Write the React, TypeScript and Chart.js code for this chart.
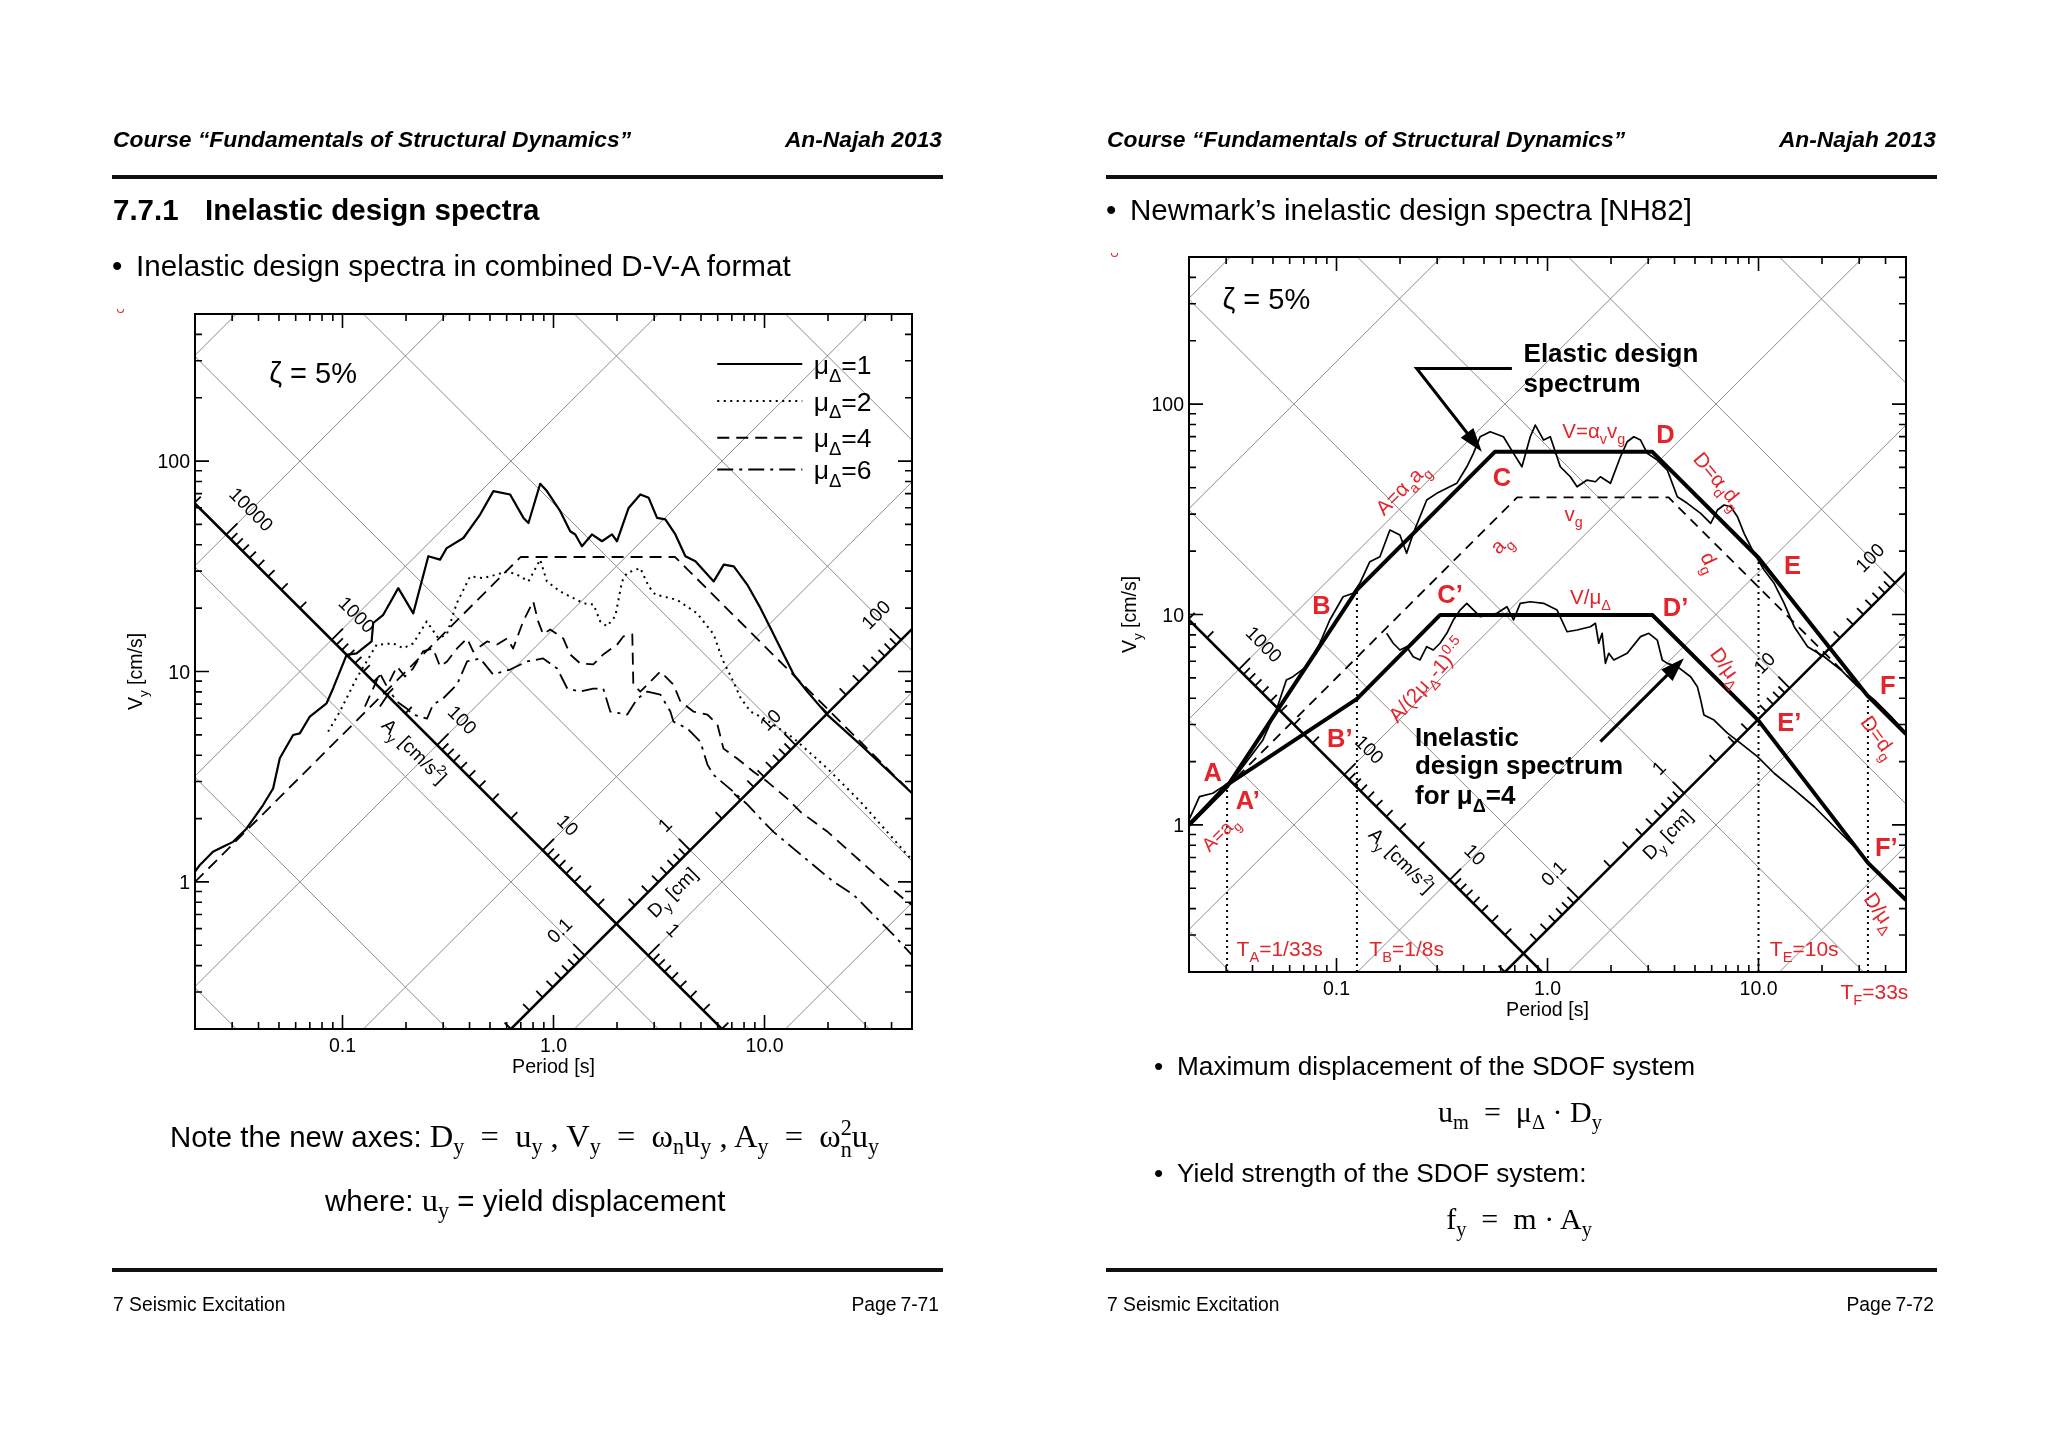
import React, { useEffect, useRef } from 'react';
import { Chart, registerables } from 'chart.js';

Chart.register(...registerables);

const SANS = '"Liberation Sans", Arial, Helvetica, sans-serif';
const SERIF = '"Liberation Serif", "Times New Roman", Times, serif';
const RED = '#e3242b';
const GRID_GRAY = '#8c8c8c';
const TWO_PI = 2 * Math.PI;

// ---------------- axis ranges / tick labels ----------------
const PERIOD_MIN = 0.02;
const PERIOD_MAX = 50;
const VEL_MIN = 0.2;
const VEL_MAX = 500;
const X_TICK_VALUES = [0.1, 1, 10];
const X_TICK_LABELS = ['0.1', '1.0', '10.0'];
const Y_TICK_VALUES = [1, 10, 100];
const Y_TICK_LABELS = ['1', '10', '100'];
const GRID_ACC = [0.1, 1, 10, 100, 1000, 10000, 100000, 1000000];
const GRID_DISP = [0.0001, 0.001, 0.01, 0.1, 1, 10, 100, 1000];

// ---------------- left chart (El Centro, inelastic spectra) ----------------
const leftMu1T = [0.02, 0.02104, 0.02433, 0.02715, 0.03029, 0.03506, 0.04203, 0.0469, 0.05045, 0.05834, 0.06277, 0.07004, 0.08404, 0.09034, 0.1046, 0.1166, 0.1374, 0.1398, 0.156, 0.1838, 0.2165, 0.2551, 0.29, 0.3119, 0.374, 0.4489, 0.519, 0.6228, 0.7205, 0.7609, 0.8648, 0.9305, 1.076, 1.2, 1.268, 1.364, 1.521, 1.697, 1.893, 2.0, 2.27, 2.579, 2.825, 3.096, 3.389, 3.781, 4.217, 4.705, 5.745, 6.411, 7.152, 8.278, 9.572, 10.48, 11.91, 13.77, 15.95, 19.85, 28.56, 50];
const leftMu1V = [1.12, 1.2, 1.39, 1.47, 1.55, 1.79, 2.32, 2.78, 3.87, 4.99, 5.08, 6.11, 7.06, 8.33, 12.0, 12.2, 13.9, 17.0, 18.6, 24.9, 18.9, 35.3, 34.0, 38.6, 43.1, 55.7, 72.0, 69.4, 53.7, 50.8, 78.0, 72.0, 57.8, 46.4, 44.8, 39.4, 44.8, 41.6, 44.8, 41.6, 59.9, 69.4, 66.9, 53.7, 52.8, 44.8, 35.3, 33.4, 26.8, 32.2, 31.6, 25.9, 20.0, 16.7, 12.9, 9.65, 8.03, 6.22, 4.48, 2.64];

const leftMu2T = [0.0855, 0.0972, 0.1166, 0.1451, 0.174, 0.1941, 0.2165, 0.2506, 0.2845, 0.3119, 0.3478, 0.4025, 0.4654, 0.5387, 0.601, 0.6704, 0.7609, 0.8648, 0.9305, 1.076, 1.244, 1.388, 1.548, 1.665, 1.792, 1.963, 2.112, 2.231, 2.579, 2.825, 3.039, 3.852, 4.793, 5.745, 6.32, 6.97, 7.69, 8.58, 9.92, 13.77, 19.85, 28.56, 50];
const leftMu2V = [5.18, 6.45, 9.29, 13.4, 13.6, 12.9, 13.6, 17.3, 14.4, 15.0, 21.1, 28.3, 27.8, 28.9, 29.9, 28.9, 26.8, 34.0, 26.8, 24.0, 22.3, 21.1, 20.8, 17.3, 16.4, 18.3, 26.8, 29.4, 31.0, 25.4, 23.2, 21.9, 18.9, 15.0, 11.4, 9.36, 7.52, 6.45, 6.0, 4.81, 3.46, 2.4, 1.27];

const leftMu4T = [0.1277, 0.1505, 0.1624, 0.1812, 0.1978, 0.2158, 0.2407, 0.2685, 0.29, 0.313, 0.349, 0.3895, 0.4159, 0.4845, 0.5404, 0.603, 0.6438, 0.718, 0.8012, 0.8461, 0.8935, 0.9645, 1.112, 1.2, 1.339, 1.543, 1.721, 2.006, 2.142, 2.363, 2.389, 2.579, 2.973, 3.21, 3.7, 3.994, 4.603, 5.364, 5.983, 6.389, 7.444, 8.868, 10.33, 12.86, 14.83, 19.91, 26.46, 35.52, 45.67, 50];
const leftMu4V = [6.81, 9.78, 8.48, 10.56, 9.47, 10.33, 12.45, 12.87, 10.56, 11.16, 12.87, 14.36, 12.45, 13.9, 13.45, 14.36, 12.87, 17.3, 21.54, 17.3, 15.01, 15.85, 14.36, 12.05, 10.92, 10.8, 12.05, 13.45, 14.68, 15.01, 8.67, 8.03, 9.26, 10.0, 8.67, 7.2, 6.45, 6.24, 5.59, 4.3, 3.85, 3.34, 2.99, 2.48, 2.15, 1.73, 1.34, 1.03, 0.83, 0.777];

const leftMu6T = [0.1505, 0.1679, 0.1812, 0.2021, 0.2158, 0.2516, 0.2685, 0.2996, 0.349, 0.3895, 0.4489, 0.5173, 0.6228, 0.75, 0.8935, 1.041, 1.162, 1.339, 1.543, 1.721, 1.858, 2.237, 2.496, 2.785, 3.21, 3.58, 3.7, 4.311, 4.969, 5.364, 5.728, 7.127, 8.305, 9.572, 11.03, 13.73, 17.08, 21.27, 26.46, 32.91, 40.96, 50];
const leftMu6V = [6.81, 8.03, 7.2, 6.66, 6.24, 5.97, 6.96, 7.44, 8.67, 11.16, 11.53, 9.68, 10.22, 11.16, 11.53, 10.33, 8.3, 8.03, 8.3, 8.3, 6.45, 6.24, 7.44, 8.03, 7.77, 6.45, 5.78, 5.35, 4.64, 3.61, 3.23, 2.68, 2.33, 2.0, 1.73, 1.44, 1.2, 1.0, 0.867, 0.696, 0.559, 0.449];

// peak ground motion bounds (a_g, v_g, d_g) drawn as the straight dashed line
const leftGroundT = [0.02, 0.698, 3.77, 50];
const leftGroundV = [1.0, 35, 35, 2.64];

// ---------------- right chart (Newmark-Hall design spectra) ----------------
const rightElasticT = [0.02, 0.02242, 0.02593, 0.02892, 0.03228, 0.0448, 0.05188, 0.05787, 0.06219, 0.07202, 0.0833, 0.09295, 0.1075, 0.1199, 0.129, 0.1439, 0.1606, 0.1791, 0.1998, 0.215, 0.2311, 0.2677, 0.2986, 0.3332, 0.3716, 0.4146, 0.4455, 0.4794, 0.5349, 0.6184, 0.6902, 0.7566, 0.8285, 0.875, 0.9583, 1.031, 1.15, 1.283, 1.381, 1.54, 1.687, 1.781, 1.987, 2.217, 2.386, 2.565, 2.76, 2.97, 3.313, 3.696, 4.123, 4.6, 5.319, 5.934, 6.386, 6.865, 7.386, 7.95, 8.543, 9.531, 10.63, 11.86, 13.23, 14.76, 17.09, 20.49, 24.6, 29.53, 35.42, 42.51, 50];
const rightElasticV = [1.056, 1.363, 1.414, 1.52, 1.636, 2.534, 3.518, 4.884, 5.064, 5.649, 7.297, 9.417, 12.15, 12.61, 14.07, 17.82, 18.82, 25.2, 23.86, 19.53, 24.3, 34.99, 37.65, 39.77, 42.01, 50.36, 58.33, 69.94, 73.86, 69.94, 58.33, 50.36, 69.94, 79.47, 67.45, 69.94, 50.36, 45.14, 40.46, 43.55, 42.75, 45.14, 42.01, 56.19, 66.22, 69.94, 67.45, 58.33, 54.2, 48.59, 36.28, 33.76, 30.26, 27.13, 31.36, 33.13, 32.52, 29.15, 24.3, 19.53, 16.27, 14.07, 11.3, 8.75, 7.03, 6.3, 5.45, 4.54, 3.93, 3.27, 2.73];

const rightInelasticT = [0.1728, 0.1857, 0.1998, 0.215, 0.2311, 0.2487, 0.2677, 0.2876, 0.3095, 0.3332, 0.358, 0.3852, 0.4146, 0.4794, 0.5756, 0.6423, 0.6902, 0.7427, 0.8285, 0.9583, 1.11, 1.238, 1.381, 1.597, 1.687, 1.749, 1.815, 1.882, 1.951, 2.061, 2.386, 2.76, 3.022, 3.313, 3.499, 3.696, 4.123, 4.769, 5.131, 5.319, 5.514, 6.153, 7.124, 8.238, 9.89, 11.86, 14.76, 18.37, 22.86, 28.46, 33.54, 50];
const rightInelasticV = [8.14, 7.3, 6.78, 7.03, 6.3, 6.08, 7.03, 6.78, 7.3, 8.14, 9.42, 10.5, 11.3, 9.76, 10.13, 10.89, 9.42, 11.3, 11.5, 11.3, 10.5, 8.28, 8.44, 8.75, 9.08, 7.3, 8.14, 5.86, 6.54, 6.08, 6.54, 7.85, 8.14, 7.56, 6.08, 5.86, 5.65, 5.06, 4.54, 3.93, 3.33, 3.15, 2.73, 2.44, 2.11, 1.76, 1.47, 1.22, 0.98, 0.789, 0.658, 0.44];

const designElasticT = [0.02, 0.0303, 0.125, 0.563, 3.14, 10, 33, 50];
const designElasticV = [1.0, 1.52, 13.1, 59.3, 59.3, 18.6, 4.09, 2.7];
const designInelasticT = [0.02, 0.0303, 0.125, 0.31, 3.14, 10, 33, 50];
const designInelasticV = [1.0, 1.55, 3.97, 9.95, 9.95, 3.13, 0.66, 0.44];
const rightGroundT = [0.02, 0.718, 3.75, 50];
const rightGroundV = [1.0, 36, 36, 2.7];
const cornerPeriods = [1 / 33, 1 / 8, 10, 33];
const cornerTopV = [1.55, 13.1, 18.6, 4.09];

// ---------------- helpers ----------------
type Part = [string, string?];

function rich(ctx: any, parts: Part[], x: number, y: number, size: number, o: any = {}) {
  const fam = o.family || SANS;
  const weight = o.bold ? 'bold ' : '';
  ctx.save();
  ctx.translate(x, y);
  if (o.rot) ctx.rotate((o.rot * Math.PI) / 180);
  ctx.fillStyle = o.color || '#000';
  ctx.textBaseline = 'alphabetic';
  ctx.textAlign = 'left';
  const fonts = parts.map((p) => `${weight}${p[1] ? size * 0.7 : size}px ${fam}`);
  const widths = parts.map((p, i) => {
    ctx.font = fonts[i];
    return ctx.measureText(p[0]).width;
  });
  const total = widths.reduce((s: number, w: number) => s + w, 0);
  let cx = o.align === 'left' ? 0 : o.align === 'right' ? -total : -total / 2;
  const base = size * 0.36;
  parts.forEach((p, i) => {
    ctx.font = fonts[i];
    const dy = p[1] === 'sub' ? size * 0.3 : p[1] === 'sup' ? -size * 0.42 : 0;
    ctx.fillText(p[0], cx, base + dy);
    cx += widths[i];
  });
  ctx.restore();
}

function arrow(ctx: any, pts: number[][], lw: number, head: number, hw: number) {
  const n = pts.length;
  const [x1, y1] = pts[n - 2];
  const [x2, y2] = pts[n - 1];
  const ang = Math.atan2(y2 - y1, x2 - x1);
  const bx = x2 - head * Math.cos(ang);
  const by = y2 - head * Math.sin(ang);
  ctx.save();
  ctx.strokeStyle = '#000';
  ctx.fillStyle = '#000';
  ctx.lineWidth = lw;
  ctx.setLineDash([]);
  ctx.beginPath();
  ctx.moveTo(pts[0][0], pts[0][1]);
  for (let i = 1; i < n - 1; i++) ctx.lineTo(pts[i][0], pts[i][1]);
  ctx.lineTo(bx + 2 * Math.cos(ang), by + 2 * Math.sin(ang));
  ctx.stroke();
  ctx.beginPath();
  ctx.moveTo(x2, y2);
  ctx.lineTo(bx + hw * Math.sin(ang), by - hw * Math.cos(ang));
  ctx.lineTo(bx - hw * Math.sin(ang), by + hw * Math.cos(ang));
  ctx.closePath();
  ctx.fill();
  ctx.restore();
}

function series(T: number[], V: number[], width: number, dash: number[] = [], color = '#000') {
  return {
    data: T.map((t, i) => ({ x: t, y: V[i] })),
    borderColor: color,
    backgroundColor: color,
    borderWidth: width,
    borderDash: dash,
    borderCapStyle: 'butt',
    borderJoinStyle: 'round',
    pointRadius: 0,
    tension: 0,
    fill: false,
  };
}

function verticalSeries(T: number[], top: number[], width: number, dash: number[]) {
  const data: any[] = [];
  T.forEach((t, i) => {
    data.push({ x: t, y: VEL_MIN });
    data.push({ x: t, y: top[i] });
    data.push({ x: t, y: null });
  });
  return {
    data,
    borderColor: '#000',
    borderWidth: width,
    borderDash: dash,
    pointRadius: 0,
    tension: 0,
    fill: false,
    spanGaps: false,
  };
}

const STEPS = [1, 2, 3, 4, 5, 6, 7, 8, 9];

function tripartite(deco: any) {
  return {
    id: 'tripartite',
    beforeDatasetsDraw(chart: any) {
      const { ctx, chartArea: a } = chart;
      const px = (t: number) => chart.scales.x.getPixelForValue(t);
      const py = (v: number) => chart.scales.y.getPixelForValue(v);
      const tLo = 1e-4;
      const tHi = 1e4;
      ctx.save();
      ctx.beginPath();
      ctx.rect(a.left, a.top, a.right - a.left, a.bottom - a.top);
      ctx.clip();
      ctx.strokeStyle = GRID_GRAY;
      ctx.lineWidth = 1;
      GRID_ACC.forEach((A) => {
        ctx.beginPath();
        ctx.moveTo(px(tLo), py((A * tLo) / TWO_PI));
        ctx.lineTo(px(tHi), py((A * tHi) / TWO_PI));
        ctx.stroke();
      });
      GRID_DISP.forEach((D) => {
        ctx.beginPath();
        ctx.moveTo(px(tLo), py((TWO_PI * D) / tLo));
        ctx.lineTo(px(tHi), py((TWO_PI * D) / tHi));
        ctx.stroke();
      });
      const D0 = deco.aAxisD;
      const A0 = deco.dAxisA;
      ctx.strokeStyle = '#000';
      ctx.lineWidth = 2.6;
      ctx.beginPath();
      ctx.moveTo(px(tLo), py((TWO_PI * D0) / tLo));
      ctx.lineTo(px(tHi), py((TWO_PI * D0) / tHi));
      ctx.stroke();
      ctx.beginPath();
      ctx.moveTo(px(tLo), py((A0 * tLo) / TWO_PI));
      ctx.lineTo(px(tHi), py((A0 * tHi) / TWO_PI));
      ctx.stroke();
      const s = Math.SQRT1_2;
      ctx.lineWidth = 1.8;
      for (let k = -2; k <= 6; k++) {
        STEPS.forEach((m) => {
          const A = m * Math.pow(10, k);
          const V = Math.sqrt(A * D0);
          const T = (TWO_PI * V) / A;
          const x = px(T);
          const y = py(V);
          const L = m === 1 ? 16 : 9;
          ctx.beginPath();
          ctx.moveTo(x, y);
          ctx.lineTo(x + L * s, y - L * s);
          ctx.stroke();
        });
        STEPS.forEach((m) => {
          const D = m * Math.pow(10, k - 3);
          const V = Math.sqrt(A0 * D);
          const T = (TWO_PI * D) / V;
          const x = px(T);
          const y = py(V);
          const L = m === 1 ? 16 : 9;
          ctx.beginPath();
          ctx.moveTo(x, y);
          ctx.lineTo(x - L * s, y - L * s);
          ctx.stroke();
        });
      }
      ctx.restore();
      const inside = (T: number, V: number) => T > PERIOD_MIN * 1.02 && T < PERIOD_MAX / 1.02 && V > VEL_MIN * 1.02 && V < VEL_MAX / 1.02;
      ctx.save();
      deco.aLabels.forEach((A: number) => {
        const V = Math.sqrt(A * D0);
        const T = (TWO_PI * V) / A;
        if (!inside(T, V)) return;
        rich(ctx, [[String(A)]], px(T) + 36 * s, py(V) - 36 * s, 19, { rot: 45 });
      });
      deco.dLabels.forEach((D: number) => {
        const V = Math.sqrt(A0 * D);
        const T = (TWO_PI * D) / V;
        if (!inside(T, V)) return;
        rich(ctx, [[String(D)]], px(T) - 36 * s, py(V) - 36 * s, 19, { rot: -45 });
      });
      {
        const A = deco.aTitleA;
        const V = Math.sqrt(A * D0);
        const T = (TWO_PI * V) / A;
        rich(ctx, [['A'], ['y', 'sub'], [' [cm/s'], ['2', 'sup'], [']']], px(T) - 20 * s, py(V) + 20 * s, 19, { rot: 45 });
      }
      {
        const D = deco.dTitleD;
        const V = Math.sqrt(A0 * D);
        const T = (TWO_PI * D) / V;
        rich(ctx, [['D'], ['y', 'sub'], [' [cm]']], px(T) + 17 * s, py(V) + 17 * s, 19, { rot: -45 });
      }
      ctx.restore();
    },
    afterDatasetsDraw(chart: any) {
      const { ctx, chartArea: a } = chart;
      const px = (t: number) => chart.scales.x.getPixelForValue(t);
      const py = (v: number) => chart.scales.y.getPixelForValue(v);
      ctx.save();
      ctx.strokeStyle = '#000';
      ctx.setLineDash([]);
      ctx.lineWidth = 2;
      ctx.strokeRect(a.left, a.top, a.right - a.left, a.bottom - a.top);
      ctx.lineWidth = 1.6;
      for (let k = -2; k <= 2; k++) {
        STEPS.forEach((m) => {
          const v = m * Math.pow(10, k);
          const L = m === 1 ? 14 : 7;
          if (v > PERIOD_MIN * 1.001 && v < PERIOD_MAX * 0.999) {
            const x = px(v);
            ctx.beginPath();
            ctx.moveTo(x, a.bottom);
            ctx.lineTo(x, a.bottom - L);
            ctx.moveTo(x, a.top);
            ctx.lineTo(x, a.top + L);
            ctx.stroke();
          }
          if (v > VEL_MIN * 1.001 && v < VEL_MAX * 0.999) {
            const y = py(v);
            ctx.beginPath();
            ctx.moveTo(a.left, y);
            ctx.lineTo(a.left + L, y);
            ctx.moveTo(a.right, y);
            ctx.lineTo(a.right - L, y);
            ctx.stroke();
          }
        });
      }
      X_TICK_VALUES.forEach((v, i) => rich(ctx, [[X_TICK_LABELS[i]]], px(v), a.bottom + 16, 19.5));
      Y_TICK_VALUES.forEach((v, i) => rich(ctx, [[Y_TICK_LABELS[i]]], a.left - 5, py(v), 19.5, { align: 'right' }));
      rich(ctx, [['Period [s]']], (a.left + a.right) / 2, a.bottom + 37, 19.6);
      rich(ctx, [['V'], ['y', 'sub'], [' [cm/s]']], a.left - 60, (a.top + a.bottom) / 2, 19.5, { rot: -90 });
      if (deco.overlay) deco.overlay(ctx, px, py, a);
      ctx.restore();
    },
  };
}

function baseOptions(padding: any) {
  return {
    responsive: false,
    animation: false,
    events: [],
    layout: { padding },
    plugins: { legend: { display: false }, tooltip: { enabled: false } },
    scales: {
      x: { type: 'logarithmic', min: PERIOD_MIN, max: PERIOD_MAX, display: false, bounds: 'data' },
      y: { type: 'logarithmic', min: VEL_MIN, max: VEL_MAX, display: false, bounds: 'data' },
    },
  };
}

const DOT = [2, 4.5];
const DASH = [12, 7];
const DASHDOT = [16, 6, 3, 6];

function leftOverlay(ctx: any, px: any, py: any) {
  rich(ctx, [['\u03b6 = 5%']], px(0.0726), py(263), 29);
  const rows: [number, number[], string][] = [
    [289, [], '1'],
    [193, DOT, '2'],
    [129, DASH, '4'],
    [91.3, DASHDOT, '6'],
  ];
  rows.forEach(([v, dash, lab]) => {
    ctx.save();
    ctx.strokeStyle = '#000';
    ctx.lineWidth = 2;
    ctx.setLineDash(dash);
    ctx.beginPath();
    ctx.moveTo(px(5.97), py(v));
    ctx.lineTo(px(15.1), py(v));
    ctx.stroke();
    ctx.restore();
    rich(ctx, [['\u03bc'], ['\u0394', 'sub'], ['=' + lab]], px(17.1), py(v), 26.5, { align: 'left' });
  });
}

function rightOverlay(ctx: any, px: any, py: any) {
  rich(ctx, [['\u03b6 = 5%']], px(0.0465), py(318), 29);
  const letters: [string, number, number][] = [
    ['A', 0.0259, 1.79], ['A\u2019', 0.038, 1.31], ['B', 0.0849, 11.1], ['B\u2019', 0.1037, 2.58],
    ['C', 0.6076, 45.1], ['C\u2019', 0.3453, 12.6], ['D', 3.627, 72.6], ['D\u2019', 4.046, 10.9],
    ['E', 14.51, 17.2], ['E\u2019', 13.98, 3.1], ['F', 41.0, 4.63], ['F\u2019', 40.3, 0.789],
  ];
  letters.forEach(([t, T, V]) => rich(ctx, [[t]], px(T), py(V), 25.5, { bold: true, color: RED }));
  const o = { color: RED };
  rich(ctx, [['A=a'], ['g', 'sub']], px(0.0279), py(0.913), 19, { ...o, rot: -45 });
  rich(ctx, [['A=\u03b1'], ['a', 'sub'], ['a'], ['g', 'sub']], px(0.2036), py(39.8), 20.5, { ...o, rot: -45 });
  rich(ctx, [['a'], ['g', 'sub']], px(0.5967), py(21.8), 20.5, { ...o, rot: -45 });
  rich(ctx, [['V=\u03b1'], ['v', 'sub'], ['v'], ['g', 'sub']], px(1.656), py(75.2), 20.5, o);
  rich(ctx, [['v'], ['g', 'sub']], px(1.33), py(30.3), 20.5, o);
  rich(ctx, [['D=\u03b1'], ['d', 'sub'], ['d'], ['g', 'sub']], px(6.5), py(43.6), 20.5, { ...o, rot: 50 });
  rich(ctx, [['d'], ['g', 'sub']], px(5.934), py(17.8), 20.5, { ...o, rot: 65 });
  rich(ctx, [['V/\u03bc'], ['\u0394', 'sub']], px(1.597), py(12.15), 20.5, o);
  rich(ctx, [['A/(2\u03bc'], ['\u0394', 'sub'], ['-1)'], ['0.5', 'sup']], px(0.2677), py(4.88), 20.5, { ...o, rot: -48 });
  rich(ctx, [['D/\u03bc'], ['\u0394', 'sub']], px(7.124), py(5.65), 20.5, { ...o, rot: 54 });
  rich(ctx, [['D=d'], ['g', 'sub']], px(37.4), py(2.63), 20.5, { ...o, rot: 54 });
  rich(ctx, [['D/\u03bc'], ['\u0394', 'sub']], px(38.1), py(0.387), 20.5, { ...o, rot: 55 });
  rich(ctx, [['T'], ['A', 'sub'], ['=1/33s']], px(0.0538), py(0.2597), 21, o);
  rich(ctx, [['T'], ['B', 'sub'], ['=1/8s']], px(0.215), py(0.2597), 21, o);
  rich(ctx, [['T'], ['E', 'sub'], ['=10s']], px(16.47), py(0.2597), 21, o);
  rich(ctx, [['T'], ['F', 'sub'], ['=33s']], px(35.4), py(0.1615), 21, o);
  rich(ctx, [['Elastic design']], px(0.77), py(174.7), 26, { bold: true, align: 'left' });
  rich(ctx, [['spectrum']], px(0.77), py(125.9), 26, { bold: true, align: 'left' });
  arrow(ctx, [[px(0.678), py(147.8)], [px(0.2399), py(147.8)], [px(0.4884), py(59.3)]], 3, 24, 8);
  rich(ctx, [['Inelastic']], px(0.2355), py(2.63), 26, { bold: true, align: 'left' });
  rich(ctx, [['design spectrum']], px(0.2355), py(1.928), 26, { bold: true, align: 'left' });
  rich(ctx, [['for \u03bc'], ['\u0394', 'sub'], ['=4']], px(0.2355), py(1.388), 26, { bold: true, align: 'left' });
  arrow(ctx, [[px(1.781), py(2.487)], [px(4.432), py(6.19)]], 3, 24, 8);
}

function leftConfig(): any {
  return {
    type: 'line',
    data: {
      datasets: [
        series(leftGroundT, leftGroundV, 1.8, DASH),
        series(leftMu6T, leftMu6V, 1.8, DASHDOT),
        series(leftMu4T, leftMu4V, 1.8, DASH),
        series(leftMu2T, leftMu2V, 2, DOT),
        series(leftMu1T, leftMu1V, 2.2),
      ],
    },
    options: baseOptions({ left: 195, right: 112, top: 314, bottom: 419 }),
    plugins: [
      tripartite({ aAxisD: 0.2, dAxisA: 2, aLabels: [10000, 1000, 100, 10, 1], dLabels: [0.1, 1, 10, 100], aTitleA: 120, dTitleD: 0.52, overlay: leftOverlay }),
    ],
  };
}

function rightConfig(): any {
  return {
    type: 'line',
    data: {
      datasets: [
        verticalSeries(cornerPeriods, cornerTopV, 2, [2, 4]),
        series(rightGroundT, rightGroundV, 1.8, [10, 7]),
        series(rightElasticT, rightElasticV, 1.7),
        series(rightInelasticT, rightInelasticV, 1.7),
        series(designElasticT, designElasticV, 4),
        series(designInelasticT, designInelasticV, 4),
      ],
    },
    options: baseOptions({ left: 165, right: 142, top: 257, bottom: 476 }),
    plugins: [
      tripartite({ aAxisD: 0.03, dAxisA: 2, aLabels: [10000, 1000, 100, 10, 1], dLabels: [0.1, 1, 10, 100], aTitleA: 21, dTitleD: 0.53, overlay: rightOverlay }),
    ],
  };
}

// ---------------- page text ----------------
const Sub = ({ children }: any) => (
  <span style={{ fontSize: '0.68em', position: 'relative', top: '0.32em' }}>{children}</span>
);
const SupSub = ({ sup, sub }: any) => (
  <span style={{ display: 'inline-block', verticalAlign: 'middle', lineHeight: 1, fontSize: '0.68em' }}>
    <span style={{ display: 'block' }}>{sup}</span>
    <span style={{ display: 'block' }}>{sub}</span>
  </span>
);

const Txt = ({ x, y, size, align = 'left', bold = false, italic = false, family = SANS, color = '#000', children }: any) => {
  const style: any = {
    position: 'absolute',
    top: y - size / 2,
    fontSize: size,
    lineHeight: `${size}px`,
    whiteSpace: 'nowrap',
    fontWeight: bold ? 700 : 400,
    fontStyle: italic ? 'italic' : 'normal',
    fontFamily: family,
    color,
  };
  if (align === 'left') style.left = x;
  else if (align === 'right') style.right = 2048 - x;
  else {
    style.left = x;
    style.transform = 'translateX(-50%)';
  }
  return <div style={style}>{children}</div>;
};

const Rule = ({ x, y, w }: any) => (
  <div style={{ position: 'absolute', left: x, top: y, width: w, height: 4, background: '#111' }} />
);

const RedMark = ({ x, y }: any) => (
  <div style={{ position: 'absolute', left: x - 3, top: y - 2, width: 5, height: 3, borderLeft: `1.5px solid ${RED}`, borderRight: `1.5px solid ${RED}`, borderBottom: `1.5px solid ${RED}`, borderRadius: '0 0 4px 4px' }} />
);

export default function App() {
  const leftRef = useRef<HTMLCanvasElement>(null);
  const rightRef = useRef<HTMLCanvasElement>(null);

  useEffect(() => {
    const c1 = new Chart(leftRef.current as any, leftConfig());
    const c2 = new Chart(rightRef.current as any, rightConfig());
    return () => {
      c1.destroy();
      c2.destroy();
    };
  }, []);

  return (
    <div style={{ position: 'absolute', left: 0, top: 0, width: 2048, height: 1448, background: '#fff', overflow: 'hidden', fontFamily: SANS }}>
      <canvas ref={leftRef} width={1024} height={1448} style={{ position: 'absolute', left: 0, top: 0 }} />
      <canvas ref={rightRef} width={1024} height={1448} style={{ position: 'absolute', left: 1024, top: 0 }} />

      {/* left page */}
      <Txt x={113} y={139} size={22.8} bold italic>Course {'\u201c'}Fundamentals of Structural Dynamics{'\u201d'}</Txt>
      <Txt x={942} y={139} size={22.8} bold italic align="right">An-Najah 2013</Txt>
      <Rule x={112} y={175} w={831} />
      <Txt x={113} y={210} size={29.5} bold>7.7.1</Txt>
      <Txt x={205} y={210} size={29.5} bold>Inelastic design spectra</Txt>
      <Txt x={112} y={266} size={29.6}>{'\u2022'}</Txt>
      <Txt x={136} y={266} size={29.6}>Inelastic design spectra in combined D-V-A format</Txt>
      <RedMark x={120} y={311} />
      <Txt x={170} y={1132} size={29.4}>
        Note the new axes:{' '}
        <span style={{ fontFamily: SERIF, fontSize: 32.5 }}>
          D<Sub>y</Sub>&nbsp; = &nbsp;u<Sub>y</Sub> , V<Sub>y</Sub>&nbsp; = &nbsp;{'\u03c9'}<Sub>n</Sub>u<Sub>y</Sub> , A<Sub>y</Sub>&nbsp; = &nbsp;{'\u03c9'}
          <SupSub sup="2" sub="n" />u<Sub>y</Sub>
        </span>
      </Txt>
      <Txt x={325} y={1201} size={29.5}>
        where: <span style={{ fontFamily: SERIF, fontSize: 32.5 }}>u<Sub>y</Sub></span> = yield displacement
      </Txt>
      <Rule x={112} y={1268} w={831} />
      <Txt x={113} y={1305} size={19.3}>7 Seismic Excitation</Txt>
      <Txt x={939} y={1305} size={19.3} align="right">Page{'\u2009'}7-71</Txt>

      {/* right page */}
      <Txt x={1107} y={139} size={22.8} bold italic>Course {'\u201c'}Fundamentals of Structural Dynamics{'\u201d'}</Txt>
      <Txt x={1936} y={139} size={22.8} bold italic align="right">An-Najah 2013</Txt>
      <Rule x={1106} y={175} w={831} />
      <Txt x={1106} y={210} size={29.6}>{'\u2022'}</Txt>
      <Txt x={1130} y={210} size={29.6}>Newmark{'\u2019'}s inelastic design spectra [NH82]</Txt>
      <RedMark x={1114} y={255} />
      <Txt x={1154} y={1066} size={26.2}>{'\u2022'}</Txt>
      <Txt x={1177} y={1066} size={26.2}>Maximum displacement of the SDOF system</Txt>
      <Txt x={1520} y={1112} size={30} family={SERIF} align="center">
        u<Sub>m</Sub>&nbsp; = &nbsp;{'\u03bc'}<Sub>{'\u0394'}</Sub> {'\u00b7'} D<Sub>y</Sub>
      </Txt>
      <Txt x={1154} y={1173} size={26.2}>{'\u2022'}</Txt>
      <Txt x={1177} y={1173} size={26.2}>Yield strength of the SDOF system:</Txt>
      <Txt x={1519} y={1219} size={30} family={SERIF} align="center">
        f<Sub>y</Sub>&nbsp; = &nbsp;m {'\u00b7'} A<Sub>y</Sub>
      </Txt>
      <Rule x={1106} y={1268} w={831} />
      <Txt x={1107} y={1305} size={19.3}>7 Seismic Excitation</Txt>
      <Txt x={1934} y={1305} size={19.3} align="right">Page{'\u2009'}7-72</Txt>
    </div>
  );
}
